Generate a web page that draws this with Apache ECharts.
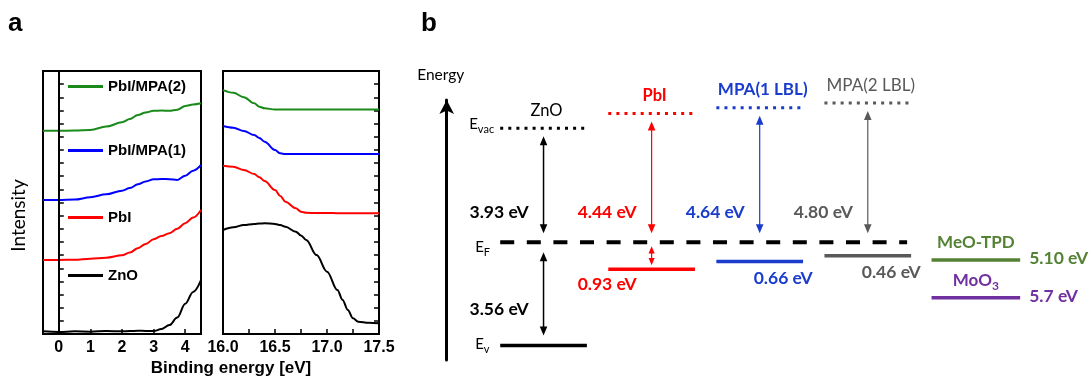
<!DOCTYPE html>
<html>
<head>
<meta charset="utf-8">
<script src="https://cdn.jsdelivr.net/npm/echarts@6/dist/echarts.min.js"></script>
<style>
  html, body { margin: 0; padding: 0; background: #fff; }
  #chart { width: 1090px; height: 380px; }
</style>
</head>
<body>
<div id="chart"></div>
<script>
// ---------- (a) UPS spectra ----------
const spectraNames = ['PbI/MPA(2)', 'PbI/MPA(1)', 'PbI', 'ZnO'];
const spectraColors = ['#1a8a1a', '#0000ff', '#ff0000', '#000000'];

// valence-band onset region (binding energy, eV)
const onsetX = [-0.5, 0, 0.5, 1.0, 1.5, 2.0, 2.25, 2.5, 2.75, 3.0, 3.25, 3.5, 3.75, 4.0, 4.25, 4.5];
const onsetMPA2 = [15.46, 15.46, 15.47, 15.52, 15.77, 16.1, 16.35, 16.65, 16.85, 16.97, 17.0, 16.97, 17.05, 17.34, 17.45, 17.54];
const onsetMPA1 = [10.19, 10.19, 10.22, 10.4, 10.62, 10.9, 11.1, 11.38, 11.6, 11.76, 11.79, 11.77, 11.72, 12.04, 12.42, 12.85];
const onsetPbI  = [5.63, 5.63, 5.65, 5.73, 5.8, 5.98, 6.2, 6.52, 6.85, 7.2, 7.45, 7.66, 8.0, 8.42, 8.85, 9.43];
const onsetZnO  = [0.2, 0.15, 0.2, 0.18, 0.22, 0.2, 0.22, 0.25, 0.23, 0.22, 0.38, 0.68, 1.25, 2.3, 3.2, 4.1];

// secondary-electron cutoff region (binding energy, eV)
const cutoffX = [16.0, 16.1, 16.2, 16.3, 16.35, 16.4, 16.5, 16.55, 16.6, 16.7, 16.75, 16.8, 16.9, 17.0, 17.1, 17.15, 17.2, 17.25, 17.3, 17.4, 17.5];
const cutoffMPA2 = [18.55, 18.35, 18.0, 17.54, 17.29, 17.16, 17.08, 17.08, 17.08, 17.08, 17.08, 17.08, 17.08, 17.08, 17.08, 17.08, 17.08, 17.08, 17.08, 17.08, 17.08];
const cutoffMPA1 = [15.82, 15.69, 15.44, 15.13, 14.9, 14.62, 13.99, 13.74, 13.69, 13.69, 13.69, 13.69, 13.69, 13.69, 13.69, 13.69, 13.69, 13.69, 13.69, 13.69, 13.69];
const cutoffPbI  = [12.8, 12.72, 12.47, 12.17, 11.92, 11.63, 10.95, 10.5, 10.06, 9.56, 9.3, 9.22, 9.2, 9.2, 9.19, 9.19, 9.19, 9.18, 9.18, 9.18, 9.18];
const cutoffZnO  = [7.91, 8.11, 8.29, 8.37, 8.4, 8.42, 8.37, 8.28, 8.16, 7.78, 7.5, 7.15, 6.0, 4.74, 3.35, 2.59, 1.83, 1.19, 0.94, 0.86, 0.81];

const onsetTicks = [0, 1, 2, 3, 4];
const cutoffTicks = [16.0, 16.5, 17.0, 17.5];
const cutoffMinorTicks = [16.0, 16.25, 16.5, 16.75, 17.0, 17.25, 17.5];

// ---------- (b) energy-level diagram ----------
const columnNames = ['ZnO', 'PbI', 'MPA(1 LBL)', 'MPA(2 LBL)'];
const workFunctions = [3.93, 4.44, 4.64, 4.80];   // E_vac − E_F (eV)
const valenceOffsets = [3.56, 0.93, 0.66, 0.46];  // E_F − E_v (eV)
const valenceArrows = [true, true, false, false];
const columnColors = ['#000000', '#ff0000', '#1a3ccc', '#595959'];
const columnBold = [false, true, true, false];
const columnFontSize = [16.5, 16.5, 17, 17];

const htlNames = ['MeO-TPD', 'MoO3'];
const htlLevels = [5.10, 5.7];                     // below vacuum (eV)
const htlDigits = [2, 1];
const htlColors = ['#548235', '#7030a0'];

const SANS = 'Lato, "Open Sans", sans-serif';
const ARIAL = '"Liberation Sans", Arial, sans-serif';
const VALUE_SIZE = 17.5;

const measureCtx = document.createElement('canvas').getContext('2d');
function textWidth(str, size, weight) {
  measureCtx.font = (weight || 'normal') + ' ' + size + 'px ' + SANS;
  return measureCtx.measureText(str).width;
}

function label(str, x, y, color, size, weight, align, vAlign) {
  return {
    type: 'text', x: x, y: y,
    style: {
      text: str, fill: color, fontSize: size, fontFamily: SANS,
      fontWeight: weight || 'normal', align: align || 'center',
      verticalAlign: vAlign || 'middle'
    }
  };
}

// text with a trailing subscript (E_vac, MoO3 ...) laid out from its left edge
function subLabel(main, sub, x, y, color, size, weight) {
  const w = textWidth(main, size, weight);
  return [
    label(main, x, y, color, size, weight, 'left'),
    label(sub, x + w, y + size * 0.32, color, Math.round(size * 0.7), weight, 'left')
  ];
}

function hLine(x1, x2, y, color, width, dash) {
  return {
    type: 'line',
    shape: { x1: x1, y1: y, x2: x2, y2: y },
    style: { stroke: color, lineWidth: width, lineDash: dash || null, lineCap: 'butt' }
  };
}

function doubleArrow(x, yTop, yBot, color, width, head) {
  const hw = head * 0.42;
  return [
    { type: 'line', shape: { x1: x, y1: yTop + head - 1, x2: x, y2: yBot - head + 1 },
      style: { stroke: color, lineWidth: width } },
    { type: 'polygon', shape: { points: [[x, yTop], [x - hw, yTop + head], [x + hw, yTop + head]] },
      style: { fill: color } },
    { type: 'polygon', shape: { points: [[x, yBot], [x - hw, yBot - head], [x + hw, yBot - head]] },
      style: { fill: color } }
  ];
}

const LEVEL_HALF = 0.401;   // half level-line length, in category bands

function renderColumn(params, api) {
  const i = api.value(0);
  const wf = api.value(1);
  const vb = api.value(2);
  const color = columnColors[i];
  const weight = columnBold[i] ? 'bold' : 'normal';
  const base = api.coord([i, 0]);
  const cx = base[0], yF = base[1];
  const yVac = api.coord([i, wf])[1];
  const yV = api.coord([i, -vb])[1];
  const half = api.size([1, 0])[0] * LEVEL_HALF;
  const aw = i === 0 ? 1.5 : 1.2;
  const kids = [];

  kids.push(hLine(cx - half, cx + half, yVac, color, 3, [3, 5.1]));
  kids.push(hLine(cx - half, cx + half, yV, color, 3.5));
  kids.push(...doubleArrow(cx, yVac + 8, yF - 9, color, aw, 9));
  kids.push(label(columnNames[i], cx + 3, yVac - 18, color, columnFontSize[i], weight));
  kids.push(label(wf.toFixed(2) + ' eV', cx - 15, yF - 30, color, VALUE_SIZE, 'bold', 'right'));

  const vbText = vb.toFixed(2) + ' eV';
  if (valenceArrows[i]) {
    const span = yV - yF;
    const gap = Math.min(10, span * 0.15);
    const head = Math.min(9, (span - 2 * gap) / 2.6);
    kids.push(...doubleArrow(cx, yF + gap, yV - gap, color, aw, head));
    const ly = span > 60 ? (yF + yV) / 2 + 15 : yV + 15;
    kids.push(label(vbText, cx - 15, ly, color, VALUE_SIZE, 'bold', 'right'));
  } else {
    kids.push(label(vbText, cx - 6, yV + 17, color, VALUE_SIZE, 'bold', 'left'));
  }

  if (i === 0) {
    const left = cx - half;
    kids.push(...subLabel('E', 'vac', left - 31, yVac - 4, '#000', 15));
    kids.push(...subLabel('E', 'F', left - 25, yF + 5, '#000', 15));
    kids.push(...subLabel('E', 'v', left - 25, yV - 1, '#000', 15));
  }
  return { type: 'group', children: kids };
}

function renderFermi(params, api) {
  const a = api.coord([0, 0]);
  const b = api.coord([columnNames.length - 1, 0]);
  const half = api.size([1, 0])[0] * LEVEL_HALF;
  return hLine(a[0] - half, b[0] + half - 4, a[1], '#000', 4, [14, 12.6]);
}

function renderHtl(params, api) {
  const idx = params.dataIndex;
  const lvl = api.value(1);
  const p = api.coord([api.value(0), lvl]);
  const cx = p[0], y = p[1];
  const half = api.size([1, 0])[0] * 0.41;
  const color = htlColors[idx];
  const kids = [hLine(cx - half, cx + half, y, color, 3.5)];
  const name = htlNames[idx];
  const m = name.match(/^(.*?[A-Za-z])(\d+)$/);
  if (m) {
    const w = textWidth(m[1], 17, 'bold') + textWidth(m[2], 12, 'bold');
    kids.push(...subLabel(m[1], m[2], cx - w / 2, y - 17, color, 17, 'bold'));
  } else {
    kids.push(label(name, cx, y - 18, color, 17, 'bold'));
  }
  kids.push(label(lvl.toFixed(htlDigits[idx]) + ' eV', cx + half + 9, y - 1.5, color, VALUE_SIZE, 'bold', 'left'));
  return { type: 'group', children: kids };
}

function zip(xs, ys) { return xs.map((x, k) => [x, ys[k]]); }

const onsetSets = [onsetMPA2, onsetMPA1, onsetPbI, onsetZnO];
const cutoffSets = [cutoffMPA2, cutoffMPA1, cutoffPbI, cutoffZnO];
const legendTops = [79, 143, 210, 268];

const lineSeries = [];
spectraNames.forEach((name, k) => {
  lineSeries.push({
    name: name, type: 'line', xAxisIndex: 0, yAxisIndex: 0,
    data: zip(onsetX, onsetSets[k]), showSymbol: false, smooth: 0.35, smoothMonotone: 'x',
    lineStyle: { width: 2, color: spectraColors[k] }, itemStyle: { color: spectraColors[k] },
    markLine: k === 3 ? {
      silent: true, symbol: 'none', label: { show: false },
      lineStyle: { color: '#000', width: 2, type: 'solid' },
      data: [{ xAxis: 0 }]
    } : undefined
  });
  lineSeries.push({
    name: name, type: 'line', xAxisIndex: 1, yAxisIndex: 1,
    data: zip(cutoffX, cutoffSets[k]), showSymbol: false, smooth: 0.35, smoothMonotone: 'x',
    lineStyle: { width: 2, color: spectraColors[k] }, itemStyle: { color: spectraColors[k] }
  });
});

const boxAxisY = (pos) => ({
  type: 'value', min: 0, max: 20, interval: 1, position: pos,
  axisLine: { show: false }, axisLabel: { show: false }, splitLine: { show: false },
  axisTick: { show: true, inside: true, length: 5, lineStyle: { color: '#000', width: 1.5 } }
});

const option = {
  animation: false,
  backgroundColor: '#fff',
  grid: [
    { left: 43, top: 71, width: 158, height: 263, show: true, borderColor: '#000', borderWidth: 2, backgroundColor: 'transparent' },
    { left: 223, top: 71, width: 156, height: 263, show: true, borderColor: '#000', borderWidth: 2, backgroundColor: 'transparent' },
    { left: 489.5, top: 100, width: 540.4, height: 260 }
  ],
  legend: spectraNames.map((name, k) => ({
    data: [name], left: 68, top: legendTops[k], padding: 0,
    icon: 'rect', itemWidth: 35, itemHeight: 3,
    textStyle: { fontFamily: ARIAL, fontWeight: 'bold', fontSize: 15, color: '#000' },
    selectedMode: false
  })),
  xAxis: [
    {
      type: 'value', gridIndex: 0, min: -0.5, max: 4.5,
      axisLine: { show: false }, splitLine: { show: false },
      axisTick: { show: true, inside: true, length: 5, customValues: onsetTicks, lineStyle: { color: '#000', width: 1.5 } },
      axisLabel: { customValues: onsetTicks, fontFamily: ARIAL, fontWeight: 'bold', fontSize: 16, color: '#000', margin: 6 }
    },
    {
      type: 'value', gridIndex: 1, min: 16, max: 17.5,
      axisLine: { show: false }, splitLine: { show: false },
      axisTick: { show: true, inside: true, length: 5, customValues: cutoffMinorTicks, lineStyle: { color: '#000', width: 1.5 } },
      axisLabel: { customValues: cutoffTicks, formatter: (v) => v.toFixed(1), fontFamily: ARIAL, fontWeight: 'bold', fontSize: 16, color: '#000', margin: 6 }
    },
    { type: 'category', gridIndex: 2, data: [...columnNames, 'HTL'], show: false }
  ],
  yAxis: [
    Object.assign(boxAxisY('left'), {
      name: 'Intensity', nameLocation: 'middle', nameGap: 15,
      nameTextStyle: { fontFamily: SANS, fontSize: 19, color: '#000', padding: [0, 0, 0, -26] }
    }),
    Object.assign(boxAxisY('right'), { gridIndex: 1 }),
    {
      // energy axis: E_F at 0, 29 px per eV
      type: 'value', gridIndex: 2, min: -4.059, max: 4.907, position: 'left', offset: 42.8,
      axisLine: { show: true, symbol: ['none', 'arrow'], symbolSize: [11, 14], lineStyle: { color: '#000', width: 3 } },
      axisTick: { show: false }, axisLabel: { show: false }, splitLine: { show: false },
      name: 'Energy', nameLocation: 'end', nameGap: 17,
      nameTextStyle: { fontFamily: SANS, fontSize: 15.5, color: '#000', padding: [0, 12, 0, 0] }
    },
    { type: 'value', gridIndex: 2, min: 2.553, max: 6.691, inverse: true, show: false }
  ],
  series: [
    ...lineSeries,
    {
      type: 'custom', xAxisIndex: 2, yAxisIndex: 2, silent: true,
      renderItem: renderFermi, data: [[0, 0]]
    },
    {
      type: 'custom', xAxisIndex: 2, yAxisIndex: 2, silent: true,
      renderItem: renderColumn,
      data: columnNames.map((n, i) => [i, workFunctions[i], valenceOffsets[i]])
    },
    {
      type: 'custom', xAxisIndex: 2, yAxisIndex: 3, silent: true,
      renderItem: renderHtl,
      data: htlLevels.map((v) => [columnNames.length, v])
    }
  ],
  graphic: [
    { type: 'text', left: 8, top: 11, style: { text: 'a', fontFamily: ARIAL, fontWeight: 'bold', fontSize: 26, fill: '#000' } },
    { type: 'text', left: 421, top: 11, style: { text: 'b', fontFamily: ARIAL, fontWeight: 'bold', fontSize: 26, fill: '#000' } },
    { type: 'text', x: 231, y: 368, style: { text: 'Binding energy [eV]', fontFamily: ARIAL, fontWeight: 'bold', fontSize: 17, fill: '#000', align: 'center', verticalAlign: 'middle' } }
  ]
};

const chart = echarts.init(document.getElementById('chart'), null, { renderer: 'canvas' });
chart.setOption(option);
</script>
</body>
</html>
